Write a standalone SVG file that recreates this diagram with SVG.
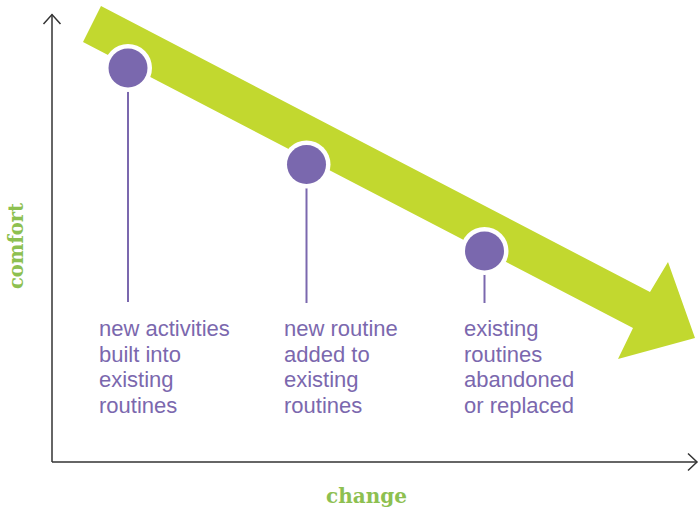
<svg xmlns="http://www.w3.org/2000/svg" width="699" height="511" viewBox="0 0 699 511">
  <style>
    .axis { fill: none; stroke: #333333; stroke-width: 1.5; }
    .stem { stroke: #7b68ae; stroke-width: 2; }
    .ring { fill: #ffffff; }
    .dot { fill: #7a68ae; }
    .note { font-family: "Liberation Sans", Arial, sans-serif; font-size: 22px; fill: #7b68ae; }
    .axis-label { font-family: "DejaVu Serif", "Liberation Serif", serif; font-weight: bold; font-size: 20px; fill: #8dc050; }
  </style>
  <rect width="699" height="511" fill="#ffffff"/>

  <!-- axes -->
  <g id="axes">
    <line class="axis" x1="52" y1="14.5" x2="52" y2="462"/>
    <polyline class="axis" points="43.5,24 52,14.5 60.5,24"/>
    <line class="axis" x1="52" y1="462" x2="697" y2="462"/>
    <polyline class="axis" points="688,453.5 697,462 688,470.5"/>
    <text class="axis-label" transform="translate(23,246) rotate(-90)" text-anchor="middle" textLength="86" lengthAdjust="spacingAndGlyphs">comfort</text>
    <text class="axis-label" x="366.5" y="503" text-anchor="middle" textLength="81" lengthAdjust="spacingAndGlyphs">change</text>
  </g>

  <!-- descending trend arrow -->
  <g id="trend">
    <polygon fill="#c2d82f" points="101,6 650,292 668,262 695,338 618,359 633,328 83,42"/>
  </g>

  <!-- connectors: stems from markers to their notes -->
  <g id="connectors">
    <line class="stem" x1="128" y1="68" x2="128" y2="302"/>
    <line class="stem" x1="306.5" y1="164.5" x2="306.5" y2="303"/>
    <line class="stem" x1="484.5" y1="251" x2="484.5" y2="303"/>
  </g>

  <g id="marker-1">
    <circle class="ring" cx="128" cy="68" r="24"/>
    <circle class="dot" cx="128" cy="68" r="19.5"/>
  </g>
  <g id="marker-2">
    <circle class="ring" cx="306.5" cy="164.5" r="24"/>
    <circle class="dot" cx="306.5" cy="164.5" r="19.5"/>
  </g>
  <g id="marker-3">
    <circle class="ring" cx="484.5" cy="251" r="24"/>
    <circle class="dot" cx="484.5" cy="251" r="19.5"/>
  </g>

  <g id="note-1">
    <text class="note" x="99" y="336">new activities</text>
    <text class="note" x="99" y="361.6">built into</text>
    <text class="note" x="99" y="387.2">existing</text>
    <text class="note" x="99" y="412.8">routines</text>
  </g>
  <g id="note-2">
    <text class="note" x="284" y="336">new routine</text>
    <text class="note" x="284" y="361.6">added to</text>
    <text class="note" x="284" y="387.2">existing</text>
    <text class="note" x="284" y="412.8">routines</text>
  </g>
  <g id="note-3">
    <text class="note" x="464" y="336">existing</text>
    <text class="note" x="464" y="361.6">routines</text>
    <text class="note" x="464" y="387.2">abandoned</text>
    <text class="note" x="464" y="412.8">or replaced</text>
  </g>
</svg>
